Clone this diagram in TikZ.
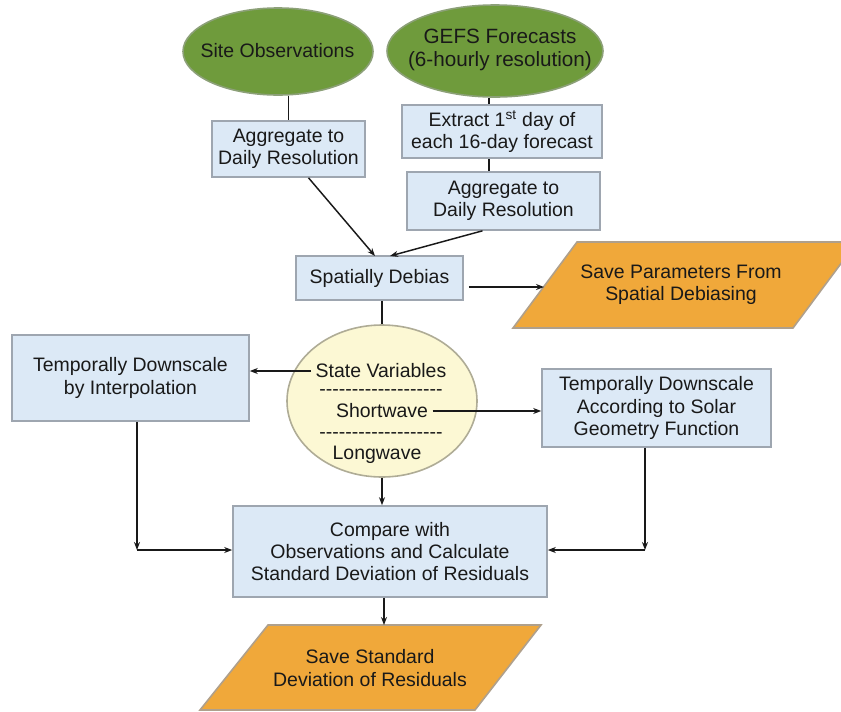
\documentclass[tikz,border=0pt]{standalone}
\usepackage{fontspec}
\setmainfont{Liberation Sans}
\usetikzlibrary{shapes.geometric,calc,arrows.meta}
\definecolor{grfill}{RGB}{111,155,60}
\definecolor{grline}{RGB}{140,160,120}
\definecolor{boxfill}{RGB}{220,233,246}
\definecolor{boxline}{RGB}{158,166,176}
\definecolor{yelfill}{RGB}{252,248,212}
\definecolor{yelline}{RGB}{175,172,150}
\definecolor{orfill}{RGB}{240,168,58}
\definecolor{orline}{RGB}{175,160,140}
\newcommand\hyrow{\foreach \i in {1,...,19}{-\kern0pt}}
\begin{document}
\begin{tikzpicture}[x=0.75pt,y=-0.75pt,
  txt/.style={font=\fontsize{14.6}{16.6}\selectfont, text=black!90, align=center},
  bigtxt/.style={font=\fontsize{15.5}{16.8}\selectfont, text=black!90, align=center},
  dashrow/.style={txt, inner sep=0pt, text height=5pt, text depth=0pt, anchor=base},
  sz/.style 2 args={minimum width=#1*0.75pt, minimum height=#2*0.75pt},
  box/.style={txt, draw=boxline, fill=boxfill, line width=1.2pt, inner sep=0pt},
  gell/.style={ellipse, draw=grline, fill=grfill, line width=1.2pt, inner sep=0pt},
  yell/.style={ellipse, draw=yelline, fill=yelfill, line width=1.2pt, inner sep=0pt},
  savebox/.style={draw=orline, fill=orfill, line width=1.2pt},
  conn/.style={line width=1.1pt, black!90},
  arr/.style={conn, -{Stealth[length=6pt,width=4.5pt]}}]
\useasboundingbox (0,0) rectangle (841,711);

% top ellipses
\node[gell, sz={190}{87}] (so) at (278,51.5) {};
\node[txt] (sot) at (277.5,51) {Site Observations};
\node[gell, sz={216}{92}] (gefs) at (495,51) {};
\node[bigtxt] (gefst) at (500,50) {GEFS Forecasts\\(6-hourly resolution)};

% boxes
\node[box, sz={153}{56}] (b1) at (288.5,149) {Aggregate to\\Daily Resolution};
\node[box, sz={200}{53}] (ex) at (502,131.5) {Extract 1\textsuperscript{st} day of\\each 16-day forecast};
\node[box, sz={193}{58}] (ag2) at (503.5,201) {Aggregate to\\Daily Resolution};
\node[box, sz={167}{44}] (sd) at (379.5,278) {Spatially Debias};

% save parameters parallelogram
\draw[savebox] (577,242) -- (857,242) -- (793,328) -- (513,328) -- cycle;
\node[txt] (sp) at (681,285) {Save Parameters From\\Spatial Debiasing};
\coordinate (spin) at (544,287);

% state variables ellipse
\node[yell, sz={190}{152}] (se) at (382,401) {};
\node[txt] (sv) at (381,371) {State Variables};
\node[dashrow] (d1) at (381,395.5) {\hyrow};
\node[txt] (sw) at (382,411) {Shortwave};
\node[dashrow] (d2) at (381,438.5) {\hyrow};
\node[txt] (lw) at (377,455) {Longwave};

\node[box, sz={237}{86}] (lb) at (130.5,378) {Temporally Downscale\\by Interpolation};
\node[box, sz={229}{78}] (rb) at (656.5,408) {Temporally Downscale\\According to Solar\\Geometry Function};

\node[box, sz={314}{91}] (cmp) at (390,551.5) {Compare with\\Observations and Calculate\\Standard Deviation of Residuals};

% bottom parallelogram
\draw[savebox] (268,625) -- (541,625) -- (475,710) -- (200,710) -- cycle;
\node[txt] (ss) at (370,668) {Save Standard\\Deviation of Residuals};
\coordinate (ssin) at (384,625);

% helper coordinates
\coordinate (gx) at (489,0);
\coordinate (t1) at (375,256);
\coordinate (t2) at (390,256);
\coordinate (cl) at (137,550);
\coordinate (cr) at (645,550);

% connectors
\draw[conn] (so.south -| b1.north) -- (b1.north);
\draw[conn] (gefs.south -| gx) -- (ex.north -| gx);
\draw[conn] (ex.south -| gx) -- (ag2.north -| gx);
\draw[arr] ($(b1.south)+(20,0)$) -- (t1);
\draw[arr] ($(ag2.south)+(-21,0)$) -- (t2);
\draw[arr] ($(sd.east |- spin)+(5,0)$) -- (spin);
\draw[conn] (se.north |- sd.south) -- (se.north);
\draw[arr] (sv.west) -- (sv.west -| lb.east);
\draw[arr] (sw.east) -- (sw.east -| rb.west);
\draw[arr] (lb.south -| cl) -- (cl);
\draw[arr] (cl) -- (cl -| cmp.west);
\draw[arr] (rb.south -| cr) -- (cr);
\draw[arr] (cr) -- (cr -| cmp.east);
\draw[arr] (se.south) -- (cmp.north -| se.south);
\draw[arr] (cmp.south -| ssin) -- (ssin);
\end{tikzpicture}
\end{document}
